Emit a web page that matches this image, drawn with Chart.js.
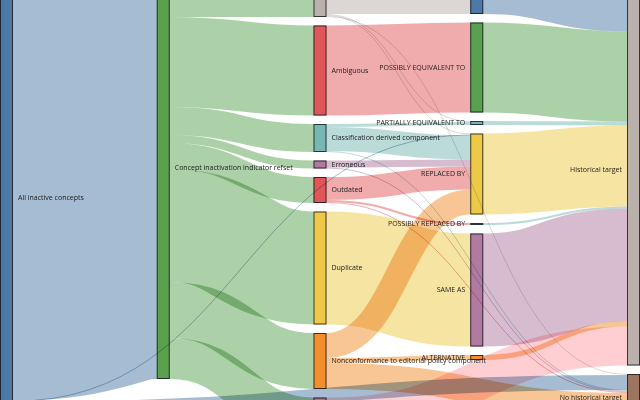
<!DOCTYPE html>
<html>
<head>
    <title>Inactive concepts by inactivation reason and association</title>
    <script src="https://cdn.jsdelivr.net/npm/chart.js"></script>
    <style>
        body { margin: 0; background: #fff; }
    </style>
</head>
<body>
    <canvas id="sankeyChart" width="640" height="400"></canvas>
    <script>
        // nodes, in the order they stack inside their column
        const nodeNames = [
            'All inactive concepts',
            'Concept inactivation indicator refset',
            'Moved elsewhere',
            'Ambiguous',
            'Classification derived component',
            'Erroneous',
            'Outdated',
            'Duplicate',
            'Nonconformance to editorial policy component',
            'Limited',
            'MOVED TO',
            'POSSIBLY EQUIVALENT TO',
            'PARTIALLY EQUIVALENT TO',
            'REPLACED BY',
            'POSSIBLY REPLACED BY',
            'SAME AS',
            'ALTERNATIVE',
            'Historical target',
            'No historical target'
        ];

        // flows: source, target, value (thousands of concepts)
        const linkSources = [
            'All inactive concepts', 'All inactive concepts', 'All inactive concepts',
            'Concept inactivation indicator refset', 'Concept inactivation indicator refset',
            'Concept inactivation indicator refset', 'Concept inactivation indicator refset',
            'Concept inactivation indicator refset', 'Concept inactivation indicator refset',
            'Concept inactivation indicator refset', 'Concept inactivation indicator refset',
            'Moved elsewhere', 'Moved elsewhere', 'Moved elsewhere', 'Moved elsewhere',
            'Ambiguous',
            'Classification derived component', 'Classification derived component', 'Classification derived component',
            'Erroneous', 'Erroneous',
            'Outdated', 'Outdated', 'Outdated',
            'Duplicate',
            'Nonconformance to editorial policy component', 'Nonconformance to editorial policy component',
            'Nonconformance to editorial policy component',
            'Limited', 'Limited',
            'MOVED TO', 'POSSIBLY EQUIVALENT TO', 'PARTIALLY EQUIVALENT TO', 'REPLACED BY',
            'POSSIBLY REPLACED BY', 'SAME AS', 'ALTERNATIVE'
        ];
        const linkTargets = [
            'Concept inactivation indicator refset', 'REPLACED BY', 'No historical target',
            'Moved elsewhere', 'Ambiguous',
            'Classification derived component', 'Erroneous',
            'Outdated', 'Duplicate',
            'Nonconformance to editorial policy component', 'Limited',
            'MOVED TO', 'PARTIALLY EQUIVALENT TO', 'REPLACED BY', 'No historical target',
            'POSSIBLY EQUIVALENT TO',
            'PARTIALLY EQUIVALENT TO', 'REPLACED BY', 'No historical target',
            'REPLACED BY', 'No historical target',
            'REPLACED BY', 'POSSIBLY REPLACED BY', 'No historical target',
            'SAME AS',
            'REPLACED BY', 'ALTERNATIVE',
            'No historical target',
            'Historical target', 'No historical target',
            'Historical target', 'Historical target', 'Historical target', 'Historical target',
            'Historical target', 'Historical target', 'Historical target'
        ];
        const linkValues = [
            422, 1, 15,
            60, 90,
            28, 8,
            26, 113,
            56, 41,
            57, 1, 1, 1,
            90,
            3, 24, 1,
            7, 1,
            23, 2, 1,
            113,
            25, 5,
            26,
            39, 2,
            57, 90, 4, 81,
            2, 113, 5
        ];

        // visible slice of the diagram on the value axis
        const yView = [43, 443];

        const palette = {
            'All inactive concepts': '#4e79a7',
            'Concept inactivation indicator refset': '#59a14f',
            'Moved elsewhere': '#bab0ac',
            'Ambiguous': '#e15759',
            'Classification derived component': '#76b7b2',
            'Erroneous': '#b07aa1',
            'Outdated': '#e15759',
            'Duplicate': '#edc948',
            'Nonconformance to editorial policy component': '#f28e2b',
            'Limited': '#ff9da7',
            'MOVED TO': '#4e79a7',
            'POSSIBLY EQUIVALENT TO': '#59a14f',
            'PARTIALLY EQUIVALENT TO': '#76b7b2',
            'REPLACED BY': '#edc948',
            'POSSIBLY REPLACED BY': '#76b7b2',
            'SAME AS': '#b07aa1',
            'ALTERNATIVE': '#f28e2b',
            'Historical target': '#bab0ac',
            'No historical target': '#9c755f'
        };

        const NODE_W = 13;
        const NODE_PAD = 8.5;

        function buildLayout() {
            const nodes = nodeNames.map((name, i) => ({ name, index: i, inLinks: [], outLinks: [], depth: 0 }));
            const byName = {};
            nodes.forEach(n => { byName[n.name] = n; });
            const links = linkSources.map((s, i) => ({
                source: byName[s], target: byName[linkTargets[i]], value: linkValues[i]
            }));
            links.forEach(l => { l.source.outLinks.push(l); l.target.inLinks.push(l); });

            // column = longest path from a source, sinks pushed to the last column
            let changed = true;
            while (changed) {
                changed = false;
                links.forEach(l => {
                    if (l.target.depth < l.source.depth + 1) {
                        l.target.depth = l.source.depth + 1;
                        changed = true;
                    }
                });
            }
            const maxDepth = Math.max(...nodes.map(n => n.depth));
            const sum = arr => arr.reduce((a, l) => a + l.value, 0);
            nodes.forEach(n => {
                if (!n.outLinks.length) n.depth = maxDepth;
                n.value = Math.max(sum(n.inLinks), sum(n.outLinks));
            });

            const columns = [];
            nodes.forEach(n => { (columns[n.depth] = columns[n.depth] || []).push(n); });
            columns.forEach(col => {
                let y = 0;
                col.forEach(n => { n.y0 = y; n.y1 = y + n.value; y = n.y1 + NODE_PAD; });
            });

            // inner columns stay top aligned, first and last are centred on them
            const inner = columns.slice(1, -1).flat();
            const lo = Math.min(...inner.map(n => n.y0));
            const hi = Math.max(...inner.map(n => n.y1));
            [columns[0], columns[maxDepth]].forEach(col => {
                const h = col[col.length - 1].y1 - col[0].y0;
                const shift = (lo + hi) / 2 - h / 2 - col[0].y0;
                col.forEach(n => { n.y0 += shift; n.y1 += shift; });
            });

            nodes.forEach(n => {
                n.outLinks.sort((a, b) => a.target.y0 - b.target.y0 || a.target.index - b.target.index);
                n.inLinks.sort((a, b) => a.source.y0 - b.source.y0 || a.source.index - b.source.index);
                let y = n.y0;
                n.outLinks.forEach(l => { l.y0 = y + l.value / 2; y += l.value; });
                y = n.y0;
                n.inLinks.forEach(l => { l.y1 = y + l.value / 2; y += l.value; });
            });
            return { nodes, links, maxDepth };
        }

        const sankey = buildLayout();

        const sankeyPlugin = {
            id: 'sankey',
            afterDatasetsDraw(chart) {
                const { ctx, scales: { x, y } } = chart;
                const px = v => y.getPixelForValue(v);
                const unit = Math.abs(px(1) - px(0));
                const half = chart.width / 2;

                ctx.save();
                // nodes
                sankey.nodes.forEach(n => {
                    const x0 = x.getPixelForValue(n.depth);
                    const top = px(n.y0);
                    const h = px(n.y1) - top;
                    ctx.fillStyle = palette[n.name];
                    ctx.fillRect(x0, top, NODE_W, h);
                    ctx.strokeStyle = 'rgba(20,20,30,0.8)';
                    ctx.lineWidth = 1;
                    ctx.strokeRect(x0 + 0.5, top + 0.5, NODE_W - 1, Math.max(1, h - 1));
                });

                // links
                ctx.globalCompositeOperation = 'multiply';
                ctx.globalAlpha = 0.5;
                ctx.lineCap = 'butt';
                sankey.links.forEach(l => {
                    const xs = x.getPixelForValue(l.source.depth) + NODE_W;
                    const xt = x.getPixelForValue(l.target.depth);
                    const ys = px(l.y0);
                    const yt = px(l.y1);
                    const xm = (xs + xt) / 2;
                    ctx.beginPath();
                    ctx.moveTo(xs, ys);
                    ctx.bezierCurveTo(xm, ys, xm, yt, xt, yt);
                    ctx.strokeStyle = palette[l.source.name];
                    ctx.lineWidth = Math.max(1, l.value * unit);
                    ctx.stroke();
                });
                ctx.restore();

                // labels
                ctx.save();
                ctx.font = '7px "Open Sans"';
                ctx.fillStyle = '#222';
                ctx.textBaseline = 'middle';
                sankey.nodes.forEach(n => {
                    const x0 = x.getPixelForValue(n.depth);
                    const mid = (px(n.y0) + px(n.y1)) / 2;
                    if (x0 < half) {
                        ctx.textAlign = 'left';
                        ctx.fillText(n.name, x0 + NODE_W + 5, mid);
                    } else {
                        ctx.textAlign = 'right';
                        ctx.fillText(n.name, x0 - 5, mid);
                    }
                });
                ctx.restore();
            }
        };

        new Chart(document.getElementById('sankeyChart'), {
            type: 'scatter',
            data: { datasets: [{ data: [] }] },
            options: {
                responsive: false,
                animation: false,
                layout: { padding: { left: 0, right: NODE_W, top: 0, bottom: 0 } },
                plugins: {
                    legend: { display: false },
                    tooltip: { enabled: false }
                },
                scales: {
                    x: { type: 'linear', min: 0, max: sankey.maxDepth, display: false },
                    y: { type: 'linear', min: yView[0], max: yView[1], reverse: true, display: false }
                }
            },
            plugins: [sankeyPlugin]
        });
    </script>
</body>
</html>
